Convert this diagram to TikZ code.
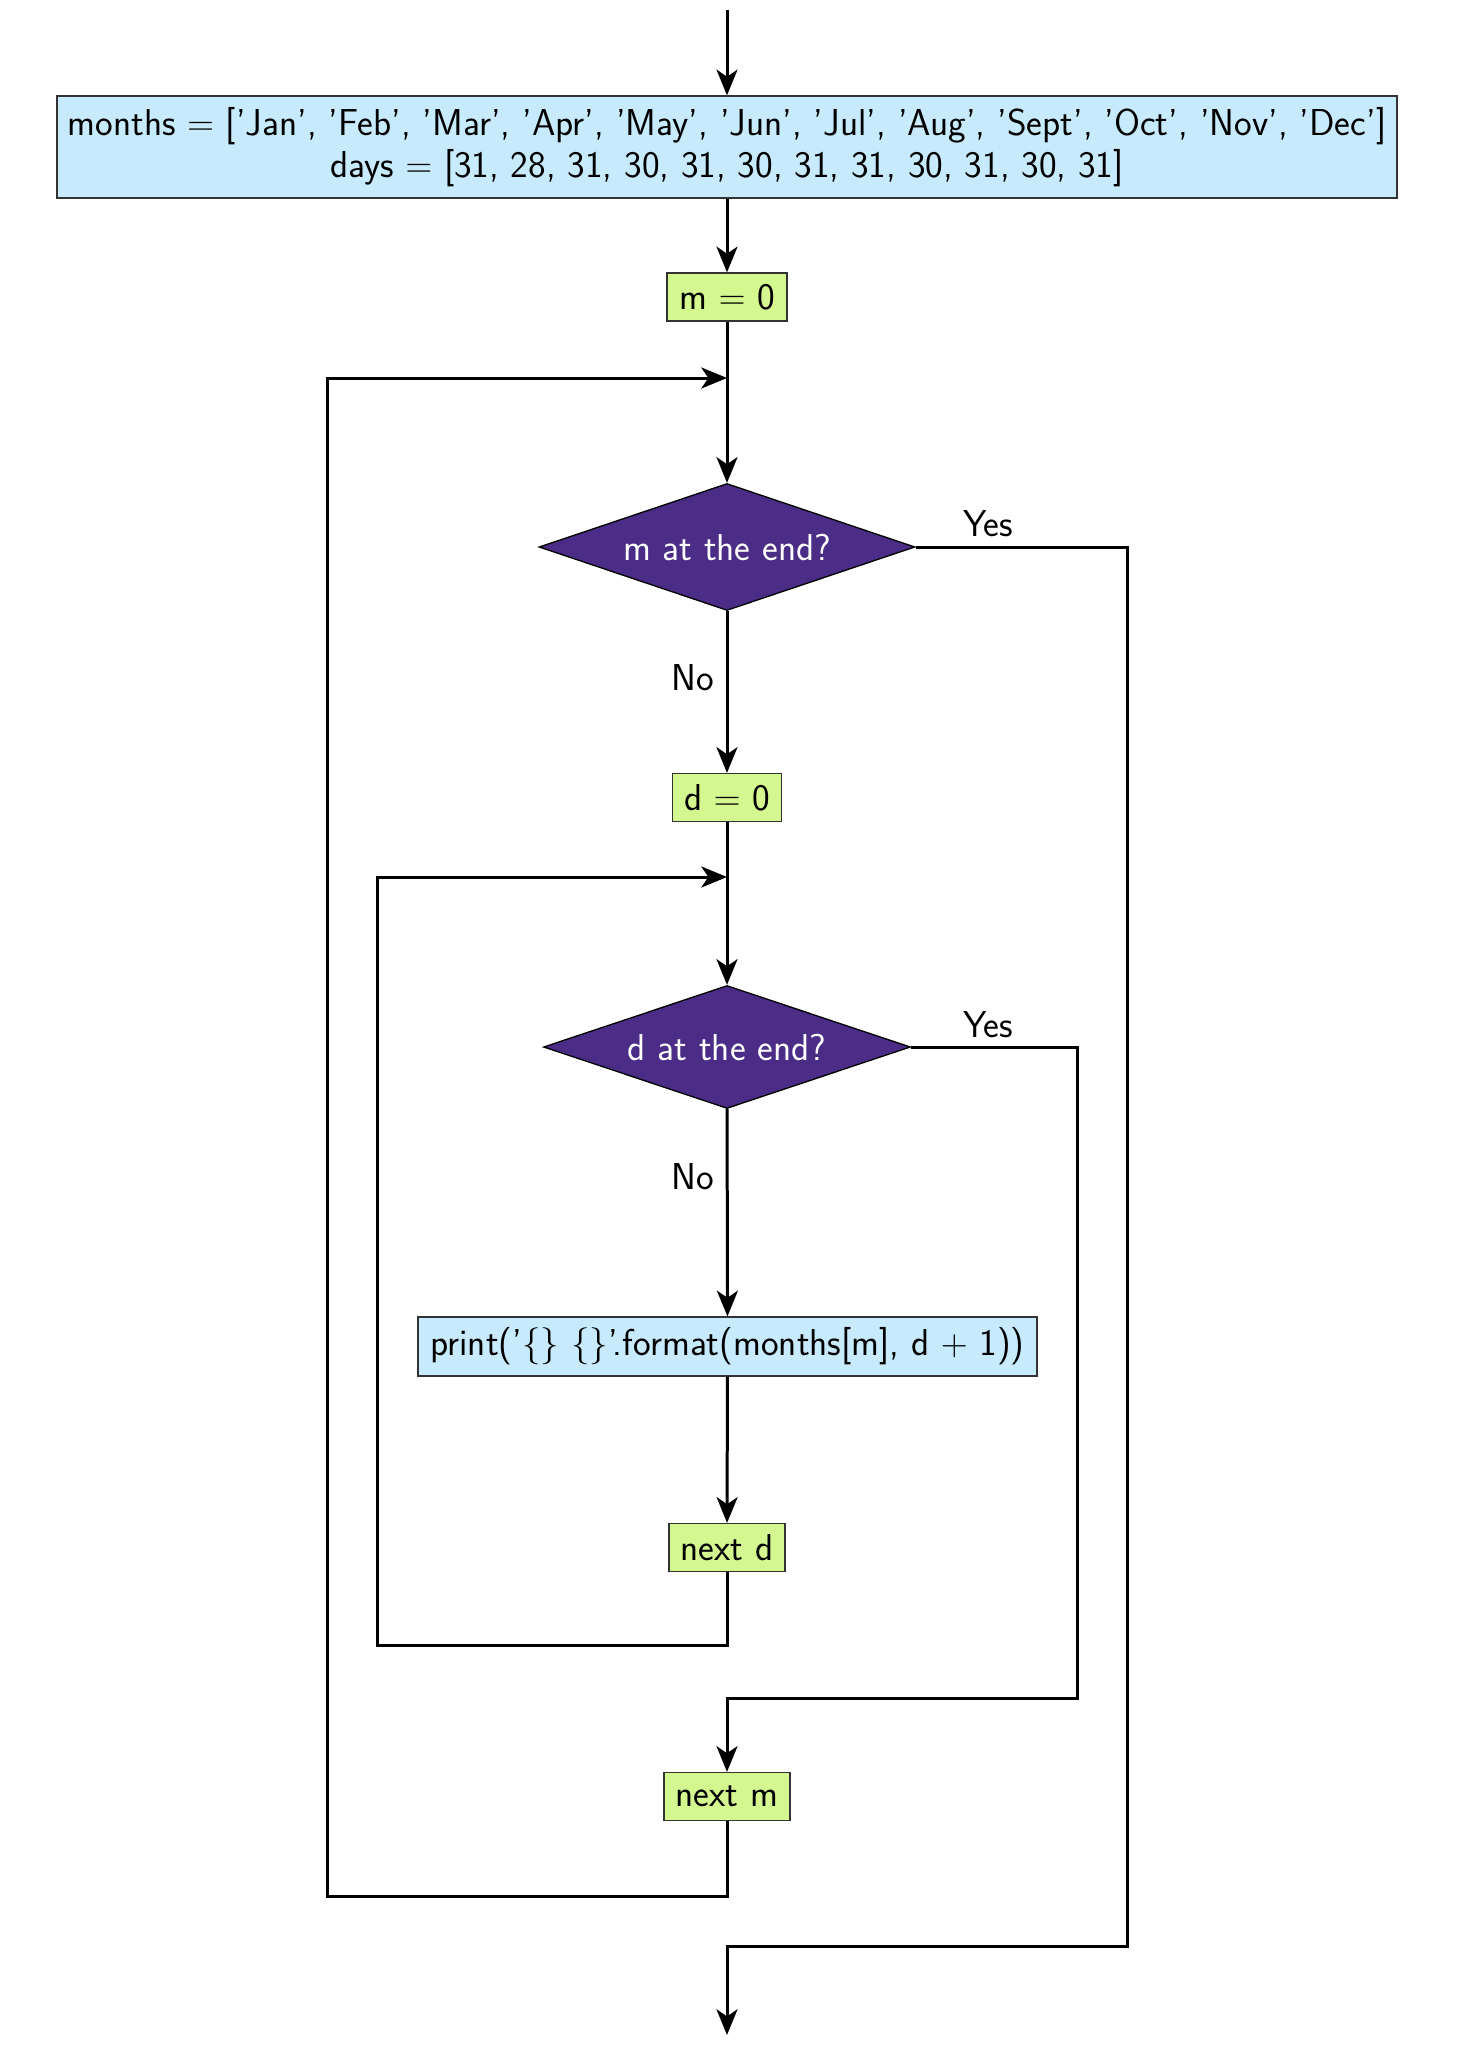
\documentclass[tikz,border=0pt]{standalone}
\usetikzlibrary{shapes.geometric,arrows.meta}
\definecolor{procblue}{HTML}{C7EBFD}
\definecolor{stepgreen}{HTML}{D4F88F}
\definecolor{testpurple}{HTML}{4B2C86}
% one drawing unit
\newcommand{\pxu}{0.467pt}
\begin{document}
\begin{tikzpicture}[x=\pxu,y=-\pxu,
  font=\fontsize{17.5}{19.6}\selectfont\sffamily,
  line width=1.4pt,
  >={Stealth[length=12pt,width=9.8pt,inset=3.3pt]},
  proc/.style={draw=black!80, line width=0.6pt, fill=procblue, inner sep=0pt, align=center, minimum height=48*\pxu},
  stepbox/.style={draw=black!80, line width=0.6pt, fill=stepgreen, inner sep=0pt, minimum height=48*\pxu},
  test/.style={diamond, aspect=3, draw=black, line width=0.6pt, fill=testpurple, text=white, inner sep=0pt}]
\useasboundingbox (0,0) rectangle (1462,2065);

% nodes
\node[proc, minimum width=1340*\pxu, minimum height=102*\pxu] (init) at (727,147)
  {months $=$ ['Jan', 'Feb', 'Mar', 'Apr', 'May', 'Jun', 'Jul', 'Aug', 'Sept', 'Oct', 'Nov', 'Dec']\\
   days $=$ [31, 28, 31, 30, 31, 30, 31, 31, 30, 31, 30, 31]};
\node[stepbox, minimum width=120*\pxu] (m0) at (727,297) {m $=$ 0};
\node[test, minimum width=376*\pxu, minimum height=127*\pxu] (mend) at (727,547) {m at the end?};
\node[stepbox, minimum width=109*\pxu] (d0) at (727,797.5) {d $=$ 0};
\node[test, minimum width=367*\pxu, minimum height=123*\pxu] (dend) at (727,1047) {d at the end?};
\node[proc, minimum width=619*\pxu, minimum height=59*\pxu] (print) at (727.5,1346.5)
  {print('$\{\}$ $\{\}$'.format(months[m], d $+$ 1))};
\node[stepbox, minimum width=116*\pxu] (nextd) at (727,1547.5) {next d};
\node[stepbox, minimum width=126*\pxu] (nextm) at (727,1796.5) {next m};

% labels
\node (yes1) at (988,524) {Yes};
\node (no1) at (693,678) {No};
\node (yes2) at (988,1025) {Yes};
\node (no2) at (693,1177) {No};

% route points
\coordinate (start) at (727,10);
\coordinate (j1) at (727,378);
\coordinate (j2) at (727,877);
\coordinate (lb1) at (327,1896);
\coordinate (lb2) at (377,1645);
\coordinate (yr1) at (1127,1946);
\coordinate (yb1) at (727,1946);
\coordinate (yr2) at (1077,1698);
\coordinate (yb2) at (727,1698);
\coordinate (stop) at (727,2035);

% connectors
\draw[->] (start) -- (init.north);
\draw[->] (init) -- (m0);
\draw[->] (m0) -- (mend);
\draw[->] (mend) -- (d0);
\draw[->] (d0) -- (dend);
\draw[->] (dend) -- (print);
\draw[->] (print) -- (nextd);
\draw[->] (nextd.south) |- (lb2) |- (j2);
\draw[->] (dend.east) -| (yr2) -- (yb2) -- (nextm.north);
\draw[->] (nextm.south) |- (lb1) |- (j1);
\draw[->] (mend.east) -| (yr1) -- (yb1) -- (stop);
\end{tikzpicture}
\end{document}
